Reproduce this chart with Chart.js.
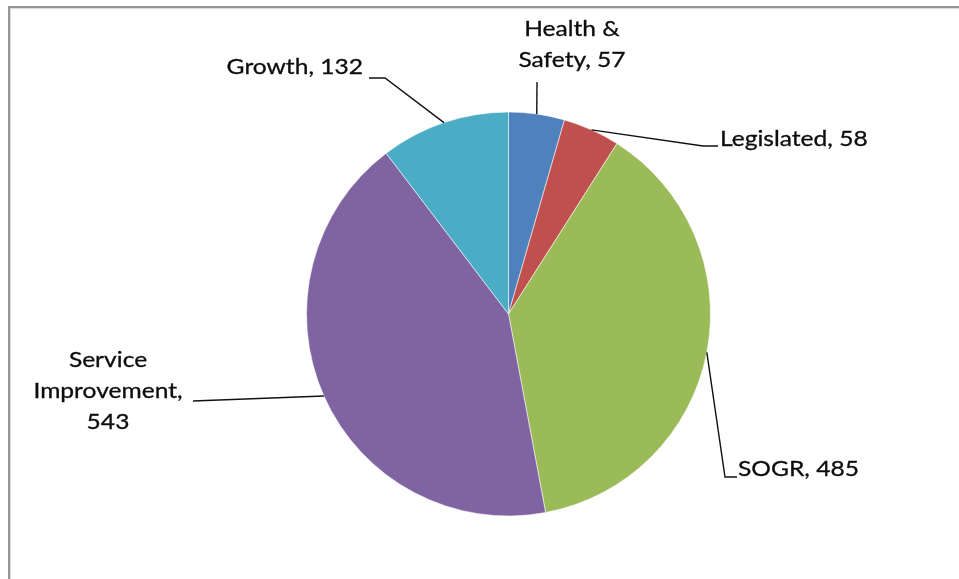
<!DOCTYPE html>
<html>
<head>
<meta charset="utf-8">
<script src="https://cdn.jsdelivr.net/npm/chart.js@4/dist/chart.umd.min.js"></script>
<style>
  html, body { margin: 0; padding: 0; background: #fff; }
  #wrap { position: relative; width: 959px; height: 579px; overflow: hidden; }
  #frame {
    position: absolute; left: 8px; top: 6px; right: -10px; bottom: -10px;
    border-top: 2px solid #969696; border-left: 2px solid #969696;
    box-shadow: inset 1px 1px 0 #dcdcdc;
  }
  canvas { position: absolute; left: 0; top: 0; }
</style>
</head>
<body>
<div id="wrap">
  <div id="frame"></div>
  <canvas id="c" width="959" height="579"></canvas>
</div>
<script>
// Project counts by category
const categories = ['Health & Safety', 'Legislated', 'SOGR', 'Service Improvement', 'Growth'];
const projectCounts = [57, 58, 485, 543, 132];
const sliceColors = ['#4F81BD', '#C0504D', '#9BBB59', '#8064A2', '#4BACC6'];

// How each category name wraps in its callout
const nameLines = [['Health &', 'Safety'], ['Legislated'], ['SOGR'], ['Service', 'Improvement'], ['Growth']];
const valueOnOwnLine = [false, false, false, true, false];

// Callout placement: leader-line bend points (after the arc anchor) and text block
const calloutLayout = [
  { bends: [[537, 82]],              x: 572, y: 36,  align: 'center' },
  { bends: [[703, 146], [718, 146]], x: 720, y: 146, align: 'left' },
  { bends: [[725, 477], [737, 477]], x: 738, y: 476, align: 'left' },
  { bends: [[193, 401]],             x: 108, y: 367, align: 'center' },
  { bends: [[385, 78], [369, 78]],   x: 363, y: 74,  align: 'right' }
];
const lineGap = 31;
const textStretch = 1.17;

function calloutText(i) {
  const lines = nameLines[i].slice();
  const last = lines.length - 1;
  if (valueOnOwnLine[i]) {
    lines[last] += ',';
    lines.push(String(projectCounts[i]));
  } else {
    lines[last] += ', ' + projectCounts[i];
  }
  return lines;
}

const callouts = {
  id: 'callouts',
  afterDatasetsDraw(chart) {
    const ctx = chart.ctx;
    const arcs = chart.getDatasetMeta(0).data;
    ctx.save();
    ctx.font = '21px Lato';
    ctx.textBaseline = 'alphabetic';
    arcs.forEach((arc, i) => {
      const p = arc.getProps(['x', 'y', 'startAngle', 'endAngle', 'outerRadius'], true);
      const mid = (p.startAngle + p.endAngle) / 2;
      const ax = p.x + Math.cos(mid) * p.outerRadius;
      const ay = p.y + Math.sin(mid) * p.outerRadius;
      const lay = calloutLayout[i];
      ctx.strokeStyle = '#111';
      ctx.lineWidth = 1.4;
      ctx.beginPath();
      ctx.moveTo(ax, ay);
      lay.bends.forEach(([bx, by]) => ctx.lineTo(bx, by));
      ctx.stroke();
      ctx.textAlign = lay.align;
      ctx.fillStyle = '#0d0d0d';
      ctx.strokeStyle = '#0d0d0d';
      ctx.lineWidth = 0.3;
      calloutText(i).forEach((line, k) => {
        ctx.save();
        ctx.translate(lay.x, lay.y + k * lineGap);
        ctx.scale(textStretch, 1);
        ctx.fillText(line, 0, 0);
        ctx.strokeText(line, 0, 0);
        ctx.restore();
      });
    });
    ctx.restore();
  }
};

new Chart(document.getElementById('c'), {
  type: 'pie',
  data: {
    labels: categories,
    datasets: [{
      data: projectCounts,
      backgroundColor: sliceColors,
      borderColor: 'rgba(255,255,255,0.55)',
      borderWidth: 1
    }]
  },
  options: {
    responsive: false,
    animation: false,
    layout: { padding: { left: 306, top: 111, right: 248, bottom: 62 } },
    plugins: { legend: { display: false }, tooltip: { enabled: false } }
  },
  plugins: [callouts]
});
</script>
</body>
</html>
